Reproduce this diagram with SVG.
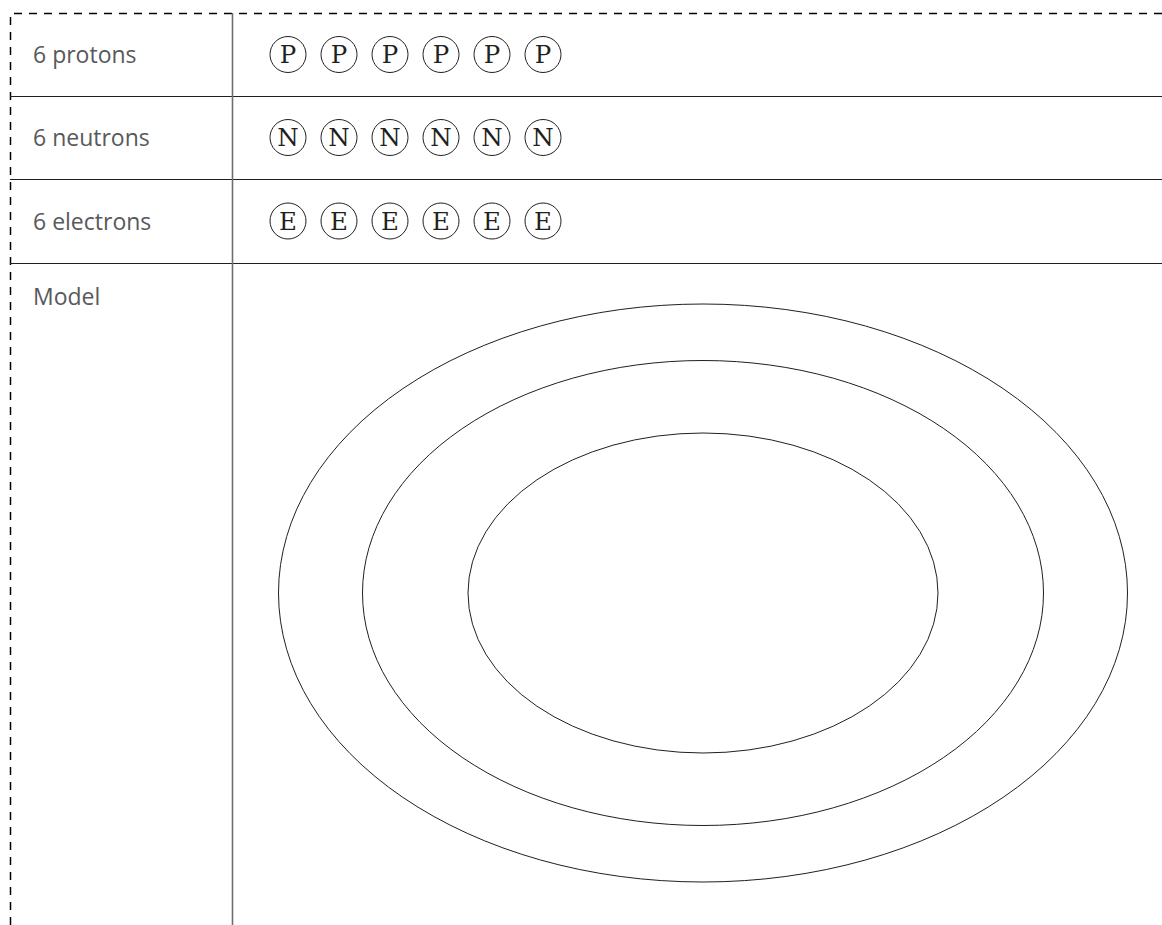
<svg xmlns="http://www.w3.org/2000/svg" width="1162" height="925" viewBox="0 0 1162 925">
<style>
.border{fill:none;stroke:#000;stroke-width:1.5;stroke-dasharray:8 7}
.hline{stroke:#231f20;stroke-width:1.1;fill:none}
.vline{stroke:#6d6e71;stroke-width:1.6;fill:none}
.label{font-family:"Open Sans","Noto Sans",sans-serif;font-size:23px;fill:#58595b}
.part circle{fill:#fff;stroke:#231f20;stroke-width:1}
.part text{font-family:"DejaVu Serif","Liberation Serif",serif;font-size:24.5px;fill:#231f20;text-anchor:middle;dominant-baseline:central}
.orbit{fill:none;stroke:#231f20;stroke-width:1}
</style>
<rect width="1162" height="925" fill="#fff"/>
<g id="table">
<path class="border" d="M10.5 925 V13.5 H1162"/>
<path class="hline" d="M10 96.5 H1162 M10 179.5 H1162 M10 263.5 H1162"/>
<path class="vline" d="M232.5 13 V925"/>
</g>
<g id="labels">
<text class="label" x="33" y="63">6 protons</text>
<text class="label" x="33" y="146">6 neutrons</text>
<text class="label" x="33" y="229.5">6 electrons</text>
<text class="label" x="33" y="305">Model</text>
</g>
<g id="protons" class="part">
<circle cx="288" cy="54.5" r="18"/><text x="288" y="54.5">P</text>
<circle cx="339" cy="54.5" r="18"/><text x="339" y="54.5">P</text>
<circle cx="390" cy="54.5" r="18"/><text x="390" y="54.5">P</text>
<circle cx="441" cy="54.5" r="18"/><text x="441" y="54.5">P</text>
<circle cx="492" cy="54.5" r="18"/><text x="492" y="54.5">P</text>
<circle cx="543" cy="54.5" r="18"/><text x="543" y="54.5">P</text>
</g>
<g id="neutrons" class="part">
<circle cx="288" cy="137.5" r="18"/><text x="288" y="137.5">N</text>
<circle cx="339" cy="137.5" r="18"/><text x="339" y="137.5">N</text>
<circle cx="390" cy="137.5" r="18"/><text x="390" y="137.5">N</text>
<circle cx="441" cy="137.5" r="18"/><text x="441" y="137.5">N</text>
<circle cx="492" cy="137.5" r="18"/><text x="492" y="137.5">N</text>
<circle cx="543" cy="137.5" r="18"/><text x="543" y="137.5">N</text>
</g>
<g id="electrons" class="part">
<circle cx="288" cy="221" r="18"/><text x="288" y="221">E</text>
<circle cx="339" cy="221" r="18"/><text x="339" y="221">E</text>
<circle cx="390" cy="221" r="18"/><text x="390" y="221">E</text>
<circle cx="441" cy="221" r="18"/><text x="441" y="221">E</text>
<circle cx="492" cy="221" r="18"/><text x="492" y="221">E</text>
<circle cx="543" cy="221" r="18"/><text x="543" y="221">E</text>
</g>
<g id="model">
<ellipse class="orbit" cx="703" cy="593" rx="424.5" ry="289"/>
<ellipse class="orbit" cx="703" cy="593" rx="340.5" ry="232.5"/>
<ellipse class="orbit" cx="703" cy="593" rx="235" ry="160"/>
</g>
</svg>
